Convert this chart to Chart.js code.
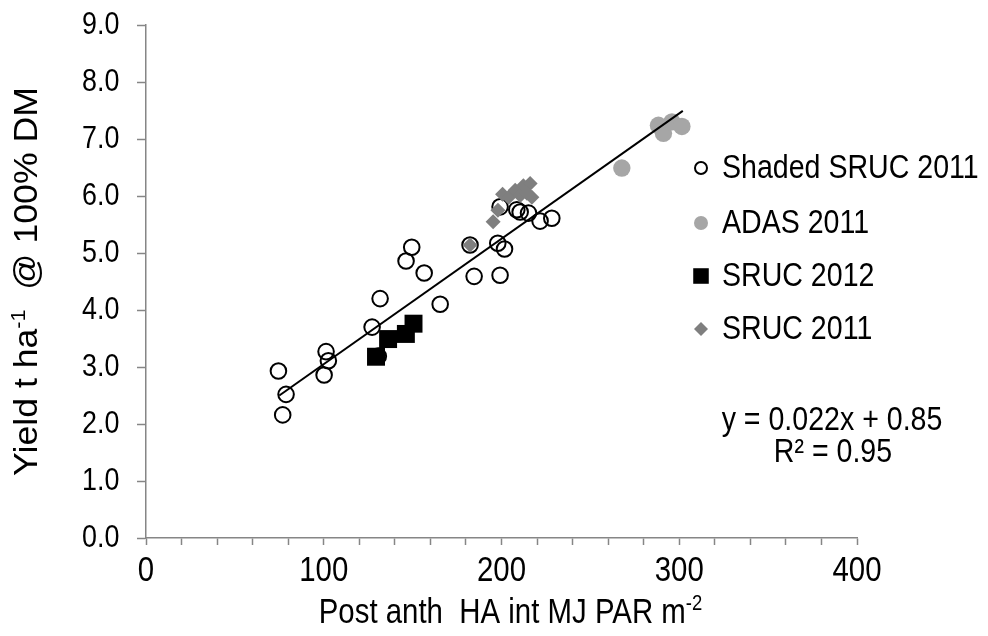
<!DOCTYPE html>
<html>
<head>
<meta charset="utf-8">
<script src="https://cdn.jsdelivr.net/npm/chart.js@4/dist/chart.umd.min.js"></script>
<style>
  html, body { margin: 0; padding: 0; background: #ffffff; }
  #wrap { width: 988px; height: 636px; }
</style>
</head>
<body>
<div id="wrap"><canvas id="c" width="988" height="636"></canvas></div>
<script>
// Post-anthesis intercepted PAR (MJ m-2) and grain yield (t/ha, 100% DM)
const shadedX = [74.5, 76.9, 78.8, 100.2, 101.3, 102.6, 127.2, 130.7, 131.7, 146.3, 149.5, 156.5, 165.5, 182.3, 184.6, 197.9, 199.2, 201.7, 199.2, 208.6, 210.5, 215.2, 221.7, 228.3];
const shadedY = [2.93, 2.16, 2.52, 2.86, 3.27, 3.11, 3.70, 3.19, 4.20, 4.86, 5.10, 4.65, 4.10, 5.14, 4.59, 5.17, 4.61, 5.07, 5.81, 5.76, 5.72, 5.70, 5.56, 5.61];

const adasX = [267.7, 288.3, 291.1, 295.9, 301.5];
const adasY = [6.49, 7.24, 7.10, 7.30, 7.22];

const sruc12X = [129.4, 136.2, 146.2, 150.5];
const sruc12Y = [3.18, 3.49, 3.58, 3.76];

const sruc11X = [182.3, 195.3, 198.0, 200.6, 204.0, 207.7, 210.5, 212.3, 216.1, 217.1, 214.3];
const sruc11Y = [5.14, 5.55, 5.75, 6.03, 5.98, 6.10, 6.01, 6.18, 6.22, 5.98, 6.05];

// Linear fit across all data: y = 0.022x + 0.85, R² = 0.95
const fitSlope = 0.022;
const fitIntercept = 0.85;
const fitR2 = 0.95;
const fitRangeX = [75, 302];

const seriesNames = ['Shaded SRUC 2011', 'ADAS 2011', 'SRUC 2012', 'SRUC 2011'];
const yTickValues = [0, 1, 2, 3, 4, 5, 6, 7, 8, 9];
const xTickLabels = [0, 100, 200, 300, 400];

const FONT = "'Liberation Sans', Arial, sans-serif";
const AXIS_GREY = '#868686';

// All text is set in a horizontally condensed Arial-like face.
const canvas = document.getElementById('c');
const ctx2d = canvas.getContext('2d');
let textScaleX = 0.84;
const nativeFillText = ctx2d.fillText;
ctx2d.fillText = function (text, x, y) {
  this.save();
  this.translate(x, y);
  this.scale(textScaleX, 1);
  nativeFillText.call(this, text, 0, 0);
  this.restore();
};

function zip(xs, ys) { return xs.map((x, i) => ({ x: x, y: ys[i] })); }

const fitPoints = fitRangeX.map(x => ({ x: x, y: fitSlope * x + fitIntercept }));

const datasets = [
  {
    label: seriesNames[0], data: zip(shadedX, shadedY), order: 4,
    pointStyle: 'circle', pointRadius: 7.8, borderWidth: 2,
    borderColor: '#000000', backgroundColor: 'rgba(0,0,0,0)',
    legendRadius: 6
  },
  {
    label: seriesNames[1], data: zip(adasX, adasY), order: 3,
    pointStyle: 'circle', pointRadius: 8.7, borderWidth: 0,
    borderColor: '#a6a6a6', backgroundColor: '#a6a6a6',
    legendRadius: 7
  },
  {
    label: seriesNames[2], data: zip(sruc12X, sruc12Y), order: 2,
    pointStyle: 'rect', pointRadius: 12.7, borderWidth: 0,
    borderColor: '#000000', backgroundColor: '#000000',
    legendRadius: 11
  },
  {
    label: seriesNames[3], data: zip(sruc11X, sruc11Y), order: 1,
    pointStyle: 'rectRot', pointRadius: 7.5, borderWidth: 0,
    borderColor: '#7f7f7f', backgroundColor: '#7f7f7f',
    legendRadius: 7
  },
  {
    label: 'fit', data: fitPoints, order: 0, type: 'line',
    showLine: true, pointRadius: 0, borderColor: '#000000', borderWidth: 2,
    fill: false, tension: 0
  }
];

// draws a run of text pieces, some of them as superscripts
function drawRich(ctx, parts, size, x, y, align) {
  const supSize = Math.round(size * 0.62);
  const widths = parts.map(p => {
    ctx.font = (p.sup ? supSize : size) + 'px ' + FONT;
    return ctx.measureText(p.t).width * textScaleX;
  });
  const total = widths.reduce((a, b) => a + b, 0);
  let cx = align === 'center' ? x - total / 2 : x;
  ctx.textAlign = 'left';
  ctx.textBaseline = 'alphabetic';
  parts.forEach((p, i) => {
    ctx.font = (p.sup ? supSize : size) + 'px ' + FONT;
    ctx.fillText(p.t, cx, p.sup ? y - size * 0.36 : y);
    cx += widths[i];
  });
}

function drawMarker(ctx, ds, x, y) {
  const opts = {
    pointStyle: ds.pointStyle, radius: ds.legendRadius, rotation: 0,
    borderWidth: ds.borderWidth
  };
  ctx.save();
  ctx.fillStyle = ds.backgroundColor;
  ctx.strokeStyle = ds.borderColor;
  ctx.lineWidth = ds.borderWidth;
  if (Chart.helpers && Chart.helpers.drawPoint) {
    Chart.helpers.drawPoint(ctx, opts, x, y);
  } else {
    ctx.beginPath();
    ctx.arc(x, y, ds.legendRadius, 0, Math.PI * 2);
    ctx.fill();
    if (ds.borderWidth) ctx.stroke();
  }
  ctx.restore();
}

const decorations = {
  id: 'decorations',
  afterDraw(chart) {
    const ctx = chart.ctx;
    const area = chart.chartArea;
    ctx.save();
    ctx.fillStyle = '#000000';

    // y axis title (rotated, set a little wider along its run)
    ctx.save();
    textScaleX = 1.08;
    ctx.translate(37, (area.top + area.bottom) / 2);
    ctx.rotate(-Math.PI / 2);
    drawRich(ctx, [{ t: 'Yield t ha' }, { t: '-1', sup: true }, { t: '  @ 100% DM' }], 33, 0, 0, 'center');
    textScaleX = 0.84;
    ctx.restore();

    // x axis title
    drawRich(ctx, [{ t: 'Post anth  HA int MJ PAR m' }, { t: '-2', sup: true }], 35, (area.left + area.right) / 2 + 9, 623, 'center');

    // legend
    const rowY = [168, 223, 276, 329];
    seriesNames.forEach((name, i) => {
      drawMarker(ctx, datasets[i], 701, rowY[i]);
      ctx.font = '34px ' + FONT;
      ctx.textAlign = 'left';
      ctx.textBaseline = 'middle';
      ctx.fillStyle = '#000000';
      ctx.fillText(name, 722, rowY[i] + 1);
    });

    // fit equation
    ctx.font = '34px ' + FONT;
    ctx.textAlign = 'center';
    ctx.textBaseline = 'middle';
    ctx.fillText('y = ' + fitSlope.toFixed(3) + 'x + ' + fitIntercept.toFixed(2), 832, 421);
    ctx.fillText('R² = ' + fitR2.toFixed(2), 833, 453);

    ctx.restore();
  }
};

new Chart(canvas, {
  type: 'scatter',
  data: { datasets: datasets },
  options: {
    responsive: false,
    animation: false,
    devicePixelRatio: 1,
    layout: { padding: { top: 25, right: 131, left: 82, bottom: 0 } },
    plugins: {
      legend: { display: false },
      tooltip: { enabled: false },
      title: { display: false }
    },
    scales: {
      x: {
        type: 'linear', min: 0, max: 400,
        afterFit(scale) { scale.height = 98; },
        border: { color: AXIS_GREY, width: 1.5 },
        grid: { drawOnChartArea: false, drawTicks: true, tickLength: 7, tickColor: AXIS_GREY, tickWidth: 1.5 },
        ticks: {
          stepSize: 20, autoSkip: false, maxRotation: 0, padding: 5,
          color: '#000000', font: { family: FONT, size: 35 },
          callback: v => (xTickLabels.includes(v) ? String(v) : '')
        }
      },
      y: {
        type: 'linear', min: yTickValues[0], max: yTickValues[yTickValues.length - 1],
        afterFit(scale) { scale.width = 64; },
        border: { color: AXIS_GREY, width: 1.5 },
        grid: { drawOnChartArea: false, drawTicks: true, tickLength: 9, tickColor: AXIS_GREY, tickWidth: 1.5 },
        ticks: {
          stepSize: 1, padding: 0, crossAlign: 'far',
          color: '#000000', font: { family: FONT, size: 32 },
          callback: v => Number(v).toFixed(1)
        }
      }
    }
  },
  plugins: [decorations]
});
</script>
</body>
</html>
